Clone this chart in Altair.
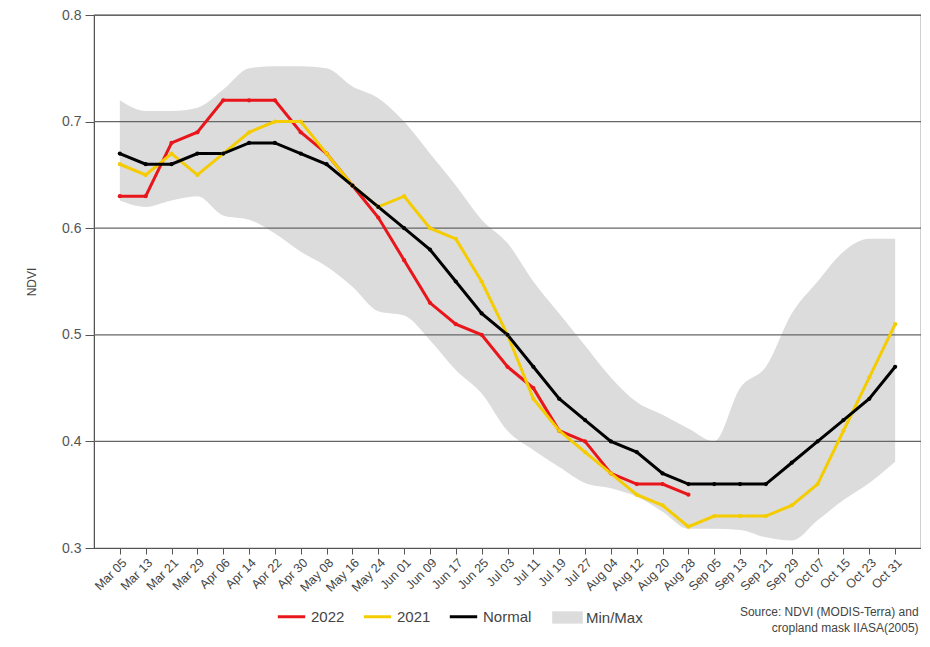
import altair as alt
import pandas as pd

dates = ["Mar 05", "Mar 13", "Mar 21", "Mar 29", "Apr 06", "Apr 14", "Apr 22", "Apr 30",
         "May 08", "May 16", "May 24", "Jun 01", "Jun 09", "Jun 17", "Jun 25", "Jul 03",
         "Jul 11", "Jul 19", "Jul 27", "Aug 04", "Aug 12", "Aug 20", "Aug 28", "Sep 05",
         "Sep 13", "Sep 21", "Sep 29", "Oct 07", "Oct 15", "Oct 23", "Oct 31"]

v2022 = [0.63, 0.63, 0.68, 0.69, 0.72, 0.72, 0.72, 0.69, 0.67, 0.64, 0.61, 0.57, 0.53, 0.51,
         0.50, 0.47, 0.45, 0.41, 0.40, 0.37, 0.36, 0.36, 0.35]

v2021 = [0.66, 0.65, 0.67, 0.65, 0.67, 0.69, 0.70, 0.70, 0.67, 0.64, 0.62, 0.63, 0.60, 0.59,
         0.55, 0.50, 0.44, 0.41, 0.39, 0.37, 0.35, 0.34, 0.32, 0.33, 0.33, 0.33, 0.34, 0.36,
         0.41, 0.46, 0.51]

normal = [0.67, 0.66, 0.66, 0.67, 0.67, 0.68, 0.68, 0.67, 0.66, 0.64, 0.62, 0.60, 0.58, 0.55,
          0.52, 0.50, 0.47, 0.44, 0.42, 0.40, 0.39, 0.37, 0.36, 0.36, 0.36, 0.36, 0.38, 0.40,
          0.42, 0.44, 0.47]

band_max = [0.72, 0.71, 0.71, 0.713, 0.73, 0.75, 0.752, 0.752, 0.75, 0.733, 0.722, 0.70, 0.67,
            0.64, 0.608, 0.586, 0.55, 0.52, 0.49, 0.46, 0.437, 0.425, 0.412, 0.40, 0.45, 0.47,
            0.52, 0.55, 0.578, 0.59, 0.59]

band_min = [0.626, 0.62, 0.626, 0.63, 0.612, 0.608, 0.595, 0.578, 0.564, 0.545, 0.522, 0.518,
            0.495, 0.467, 0.445, 0.41, 0.392, 0.376, 0.361, 0.356, 0.348, 0.334, 0.318, 0.318,
            0.317, 0.31, 0.307, 0.326, 0.345, 0.361, 0.381]

grid_values = [0.4, 0.5, 0.6, 0.7, 0.8]
y_ticks = [0.3, 0.4, 0.5, 0.6, 0.7, 0.8]

series_names = ["2022", "2021", "Normal"]
series_colors = ["#e8161b", "#f4cc00", "#000000"]

rows = []
for name, vals in zip(series_names, [v2022, v2021, normal]):
    for d, v in zip(dates, vals):
        rows.append({"series": name, "date": d, "value": v})
lines_df = pd.DataFrame(rows)

band_df = pd.DataFrame({"date": dates, "lo": band_min, "hi": band_max, "band": "Min/Max"})
grid_df = pd.DataFrame({"g": grid_values})

FONT = "Liberation Sans"

x_enc = alt.X(
    "date:O",
    sort=dates,
    scale=alt.Scale(type="point", padding=1, domain=dates),
    axis=alt.Axis(
        title=None, labelAngle=-45, labelFontSize=12.5, labelColor="#444",
        tickSize=6, tickColor="#555", domainColor="#555", grid=False,
        labelPadding=2,
    ),
)

y_scale = alt.Scale(domain=[0.3, 0.8], nice=False, zero=False)

band = alt.Chart(band_df).mark_area(interpolate="monotone", opacity=1).encode(
    x=x_enc,
    y=alt.Y(
        "lo:Q", scale=y_scale,
        axis=alt.Axis(
            title="NDVI", values=y_ticks, format=".1f", labelFontSize=14,
            labelColor="#555", tickSize=9, tickColor="#555", domainColor="#555",
            grid=False, titleFontSize=12, titleFontWeight="normal", titleColor="#444",
            titlePadding=23, labelPadding=4,
        ),
    ),
    y2="hi:Q",
    fill=alt.Fill(
        "band:N",
        scale=alt.Scale(domain=["Min/Max"], range=["#dcdcdc"]),
        legend=alt.Legend(
            title=None, orient="none", legendX=461, legendY=590,
            symbolType="M-1.25,-0.5H1.25V0.5H-1.25Z", symbolSize=600,
            symbolStrokeWidth=0, labelFontSize=15, labelColor="#444", labelOffset=6,
        ),
    ),
)

grid = alt.Chart(grid_df).mark_rule(color="#666", strokeWidth=1.2).encode(
    y=alt.Y("g:Q", scale=y_scale)
)

lines = alt.Chart(lines_df).mark_line(
    strokeWidth=3, point=alt.OverlayMarkDef(filled=True, size=18)
).encode(
    x=x_enc,
    y=alt.Y("value:Q", scale=y_scale),
    color=alt.Color(
        "series:N",
        scale=alt.Scale(domain=series_names, range=series_colors),
        sort=series_names,
        legend=alt.Legend(
            title=None, orient="none", legendX=182, legendY=586, direction="horizontal",
            symbolType="stroke", symbolStrokeWidth=3, symbolSize=750,
            labelFontSize=15, labelColor="#444", columnPadding=12, labelOffset=4,
        ),
    ),
    detail="series:N",
)

chart = alt.layer(band, grid, lines).resolve_scale(color="independent").properties(
    width=827,
    height=533,
    autosize=alt.AutoSizeParams(type="none"),
    padding={"left": 86, "top": 7, "right": 0, "bottom": 88},
    title=alt.TitleParams(
        text=["Source: NDVI (MODIS-Terra) and", "cropland mask IIASA(2005)"],
        orient="bottom", anchor="end", align="right", fontSize=12,
        fontWeight="normal", color="#444", offset=0, lineHeight=16, dx=-3, dy=-19,
    ),
).configure(font=FONT).configure_view(stroke="#666", strokeWidth=1.2)

chart.save("out.html", embed_options={"renderer": "svg", "actions": False})
